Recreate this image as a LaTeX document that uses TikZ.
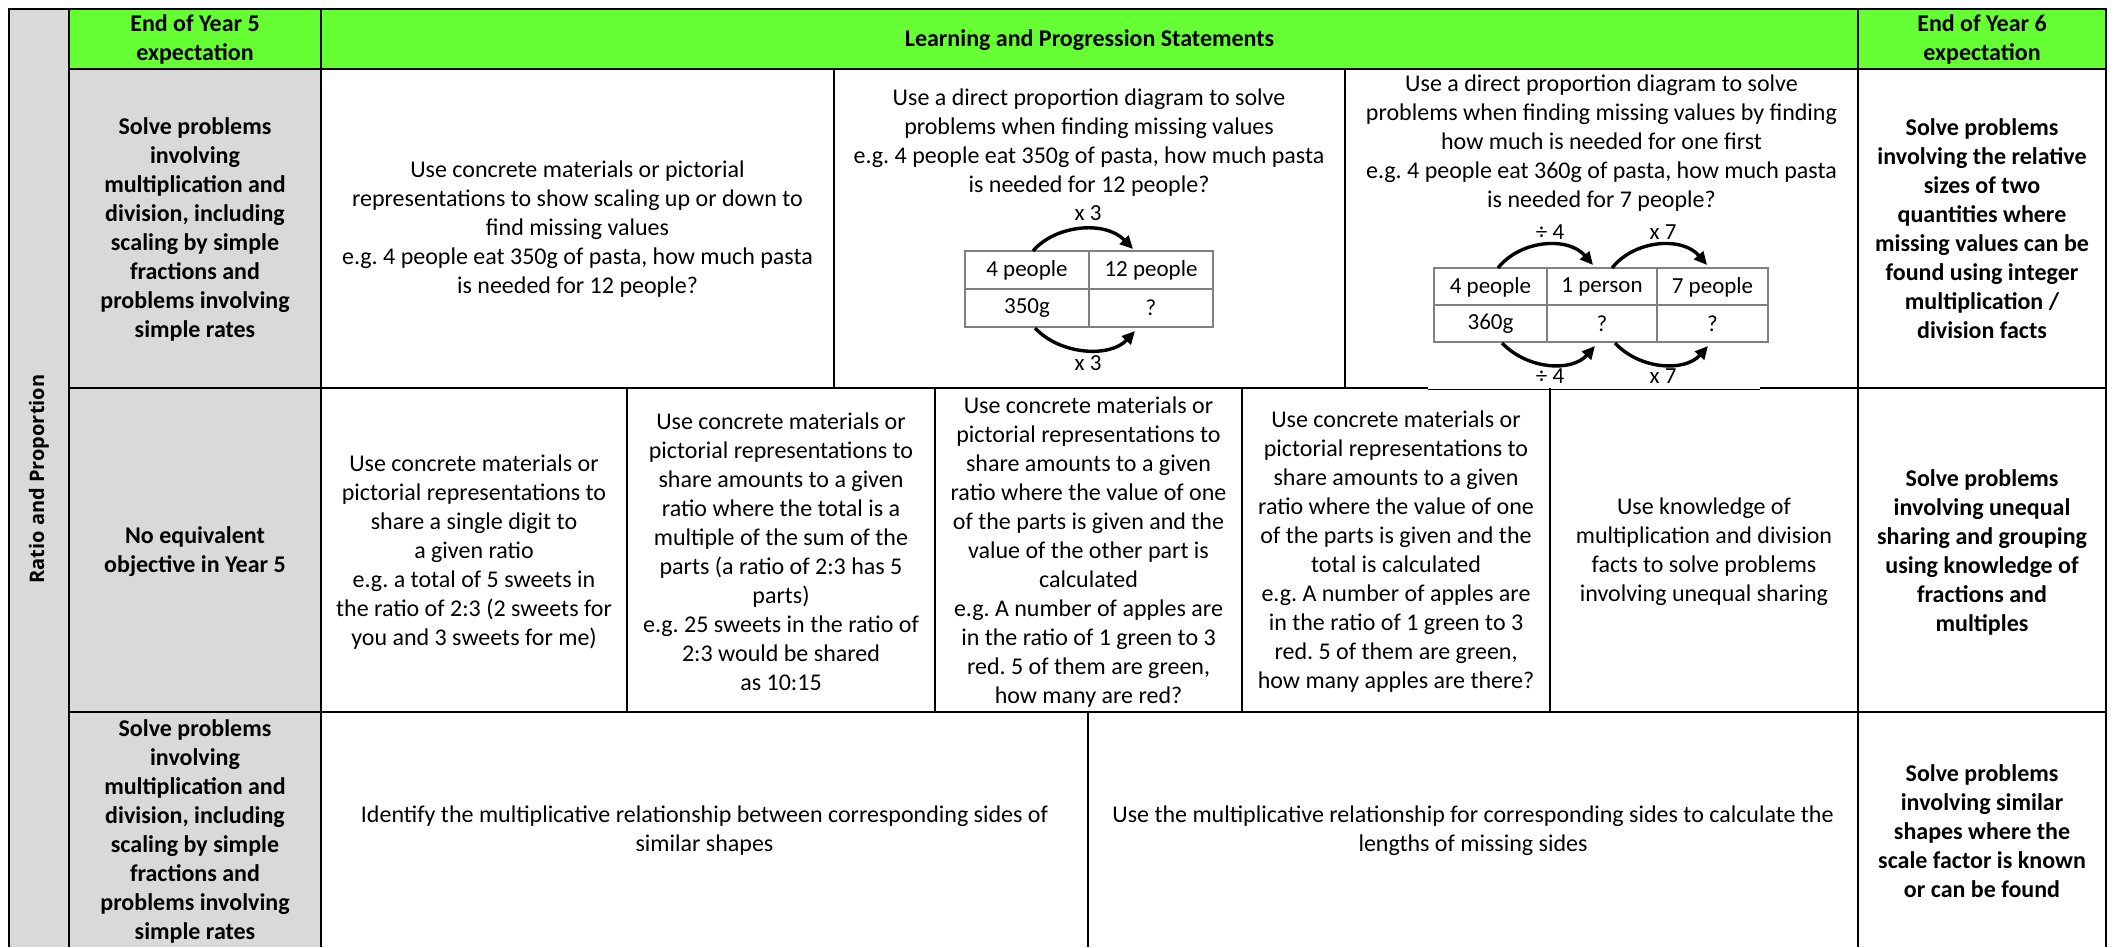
\documentclass[tikz,border=0pt]{standalone}
\usepackage{fontspec}
\setmainfont{Carlito}
\newfontfamily\sidefont{Open Sans}
\usetikzlibrary{arrows.meta}
\frenchspacing
\definecolor{hdrgreen}{RGB}{102,255,51}
\definecolor{cellgrey}{RGB}{217,217,217}
\definecolor{tblgrey}{RGB}{128,128,128}
\tikzset{
  txt/.style={align=center, inner sep=0pt, font=\fontsize{24}{29}\selectfont},
  btxt/.style={align=center, inner sep=0pt, font=\fontsize{24}{29}\selectfont\bfseries},
  dtxt/.style={inner sep=0pt, font=\fontsize{23}{28}\selectfont},
  grid/.style={line width=2pt, black},
  thingrid/.style={line width=1.6pt, black},
  tbl/.style={line width=1.3pt, tblgrey},
  jump/.style={line width=3.4pt, -{Triangle[length=13pt,width=12pt]}}
}
\begin{document}
\begin{tikzpicture}[x=1pt, y=-1pt]
\useasboundingbox (0,0) rectangle (2116,947);
\fill[white] (0,0) rectangle (2116,947);
% fills
\fill[cellgrey] (9,9) rectangle (69,947);
\fill[cellgrey] (69,69) rectangle (321,947);
\fill[hdrgreen] (69,9) rectangle (2106,69);
% grid lines
\draw[grid] (9,947) -- (9,9) -- (2106,9) -- (2106,947);
\draw[grid] (69,9) -- (69,947);
\draw[grid] (321,9) -- (321,947);
\draw[grid] (1858,9) -- (1858,947);
\draw[grid] (69,69) -- (2106,69);
\draw[grid] (69,388) -- (1428,388);
\draw[line width=1pt] (1428,389) -- (1760,389);
\draw[grid] (1760,388) -- (2106,388);
\draw[grid] (69,712) -- (2106,712);
\draw[grid] (834,69) -- (834,388);
\draw[grid] (1345,69) -- (1345,388);
\draw[thingrid] (627,388) -- (627,712);
\draw[thingrid] (935,388) -- (935,712);
\draw[thingrid] (1242,388) -- (1242,712);
\draw[thingrid] (1550,388) -- (1550,712);
\draw[thingrid] (1088,712) -- (1088,947);

% side label
\node[rotate=90, inner sep=0pt, font=\sidefont\fontsize{20}{24}\selectfont\bfseries] (side) at (39,479) {Ratio and Proportion};

% header
\node[btxt] (h5) at (195,39) {End of Year 5\\expectation};
\node[btxt] (hl) at (1089.5,40) {Learning and Progression Statements};
\node[btxt] (h6) at (1982,39) {End of Year 6\\expectation};

% row 1
\node[btxt] (r1y5) at (195,229) {Solve problems\\involving\\multiplication and\\division, including\\scaling by simple\\fractions and\\problems involving\\simple rates};
\node[txt] (r1a) at (577.5,229) {Use concrete materials or pictorial\\representations to show scaling up or down to\\find missing values\\e.g. 4 people eat 350g of pasta, how much pasta\\is needed for 12 people?};
\node[txt] (r1b) at (1089,143) {Use a direct proportion diagram to solve\\problems when finding missing values\\e.g. 4 people eat 350g of pasta, how much pasta\\is needed for 12 people?};
\node[txt] (r1c) at (1601.5,143) {Use a direct proportion diagram to solve\\problems when finding missing values by finding\\how much is needed for one first\\e.g. 4 people eat 360g of pasta, how much pasta\\is needed for 7 people?};
\node[btxt] (r1y6) at (1982,229) {Solve problems\\involving the relative\\sizes of two\\quantities where\\missing values can be\\found using integer\\multiplication /\\division facts};

% diagram 1
\fill[white] (965,251) rectangle (1213,327);
\draw[tbl] (965,251) rectangle (1213,327);
\draw[tbl] (965,289) -- (1213,289);
\draw[tbl] (1089,251) -- (1089,327);
\node[dtxt] (d1a) at (1027,270) {4 people};
\node[dtxt] (d1b) at (1151,270) {12 people};
\node[dtxt] (d1c) at (1027,308) {350g};
\node[dtxt] (d1d) at (1151,308) {?};
\coordinate (t1s) at (1033,251);
\coordinate (t1e) at (1133,249);
\coordinate (b1s) at (1035,328);
\coordinate (b1e) at (1135,331);
\draw[jump] (t1s) .. controls (1055,225) and (1105,220) .. (t1e);
\draw[jump] (b1s) .. controls (1060,355) and (1110,358) .. (b1e);
\node[dtxt] (l1t) at (1088,213) {x 3};
\node[dtxt] (l1b) at (1088,363) {x 3};

% diagram 2
\fill[white] (1434,268) rectangle (1768,342);
\draw[tbl] (1434,268) rectangle (1768,342);
\draw[tbl] (1434,305) -- (1768,305);
\draw[tbl] (1547,268) -- (1547,342);
\draw[tbl] (1657,268) -- (1657,342);
\node[dtxt] (d2a) at (1490.5,287) {4 people};
\node[dtxt] (d2b) at (1602,287) {1 person};
\node[dtxt] (d2c) at (1712.5,287) {7 people};
\node[dtxt] (d2d) at (1490.5,324) {360g};
\node[dtxt] (d2e) at (1602,324) {?};
\node[dtxt] (d2f) at (1712.5,324) {?};
\coordinate (t2s) at (1498,268);
\coordinate (t2e) at (1593,265);
\coordinate (t3s) at (1612,268);
\coordinate (t3e) at (1707,265);
\coordinate (b2s) at (1502,343);
\coordinate (b2e) at (1595,346);
\coordinate (b3s) at (1615,343);
\coordinate (b3e) at (1708,346);
\draw[jump] (t2s) .. controls (1520,240) and (1568,236) .. (t2e);
\draw[jump] (t3s) .. controls (1634,240) and (1682,236) .. (t3e);
\draw[jump] (b2s) .. controls (1528,370) and (1572,372) .. (b2e);
\draw[jump] (b3s) .. controls (1640,370) and (1685,372) .. (b3e);
\node[dtxt] (l2t) at (1550,232) {÷ 4};
\node[dtxt] (l3t) at (1663,232) {x 7};
\node[dtxt] (l2b) at (1550,376) {÷ 4};
\node[dtxt] (l3b) at (1663,376) {x 7};

% row 2
\node[btxt] (r2y5) at (195,552) {No equivalent\\objective in Year 5};
\node[txt] (r2a) at (474,552) {Use concrete materials or\\pictorial representations to\\share a single digit to\\a given ratio\\e.g. a total of 5 sweets in\\the ratio of 2:3 (2 sweets for\\you and 3 sweets for me)};
\node[txt] (r2b) at (781,552) {Use concrete materials or\\pictorial representations to\\share amounts to a given\\ratio where the total is a\\multiple of the sum of the\\parts (a ratio of 2:3 has 5\\parts)\\e.g. 25 sweets in the ratio of\\2:3 would be shared\\as 10:15};
\node[txt] (r2c) at (1088.5,552) {Use concrete materials or\\pictorial representations to\\share amounts to a given\\ratio where the value of one\\of the parts is given and the\\value of the other part is\\calculated\\e.g. A number of apples are\\in the ratio of 1 green to 3\\red. 5 of them are green,\\how many are red?};
\node[txt] (r2d) at (1396,552) {Use concrete materials or\\pictorial representations to\\share amounts to a given\\ratio where the value of one\\of the parts is given and the\\total is calculated\\e.g. A number of apples are\\in the ratio of 1 green to 3\\red. 5 of them are green,\\how many apples are there?};
\node[txt] (r2e) at (1704,552) {Use knowledge of\\multiplication and division\\facts to solve problems\\involving unequal sharing};
\node[btxt] (r2y6) at (1982,552) {Solve problems\\involving unequal\\sharing and grouping\\using knowledge of\\fractions and\\multiples};

% row 3
\node[btxt] (r3y5) at (195,831) {Solve problems\\involving\\multiplication and\\division, including\\scaling by simple\\fractions and\\problems involving\\simple rates};
\node[txt] (r3a) at (704.5,831) {Identify the multiplicative relationship between corresponding sides of\\similar shapes};
\node[txt] (r3b) at (1473,831) {Use the multiplicative relationship for corresponding sides to calculate the\\lengths of missing sides};
\node[btxt] (r3y6) at (1982,831) {Solve problems\\involving similar\\shapes where the\\scale factor is known\\or can be found};
\end{tikzpicture}
\end{document}
